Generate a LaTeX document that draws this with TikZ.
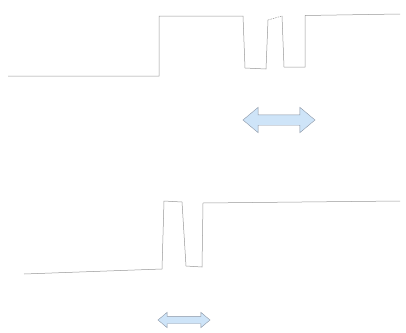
\documentclass[tikz,border=0pt]{standalone}
\usepackage{tikz}
\usetikzlibrary{arrows.meta,calc,positioning,shapes.arrows}
\definecolor{tracegray}{RGB}{150,150,150}
\definecolor{shiftblue}{RGB}{206,228,248}
\definecolor{shiftedge}{RGB}{140,150,165}

\begin{document}
\begin{tikzpicture}[x=1pt, y=-1pt,
    trace/.style={line width=0.5pt, color=tracegray},
    shiftarrow/.style={double arrow, draw=shiftedge, fill=shiftblue, line width=0.4pt,
        inner xsep=0pt, minimum width=0pt, double arrow head indent=0pt}]
        \useasboundingbox (0,0) rectangle (406,332);

        % Upper trace
        \draw[trace] (8, 76) -- (159, 76) -- (159, 16) -- (243, 16)
            -- (245, 68) -- (266, 69) -- (268, 20);
        \draw[trace, dashed, dash pattern=on 1.5pt off 1pt] (268, 20) -- (282, 16);
        \draw[trace] (282, 16) -- (284, 67) -- (305, 67) -- (305, 15.5) -- (400, 14);

        % Upper shift arrow
        \node[shiftarrow, minimum height=72pt, inner ysep=5pt,
            double arrow head extend=7.5pt, double arrow tip angle=80] (shiftTop) at (279, 120) {};

        % Lower trace
        \draw[trace] (24, 274) -- (162, 269) -- (164, 201) -- (182, 202)
            -- (186, 266) -- (202, 267) -- (203, 203) -- (400, 201);

        % Lower shift arrow
        \node[shiftarrow, minimum height=52pt, inner ysep=3.5pt,
            double arrow head extend=4pt, double arrow tip angle=80] (shiftBottom) at (184, 320) {};
    \end{tikzpicture}
\end{document}
